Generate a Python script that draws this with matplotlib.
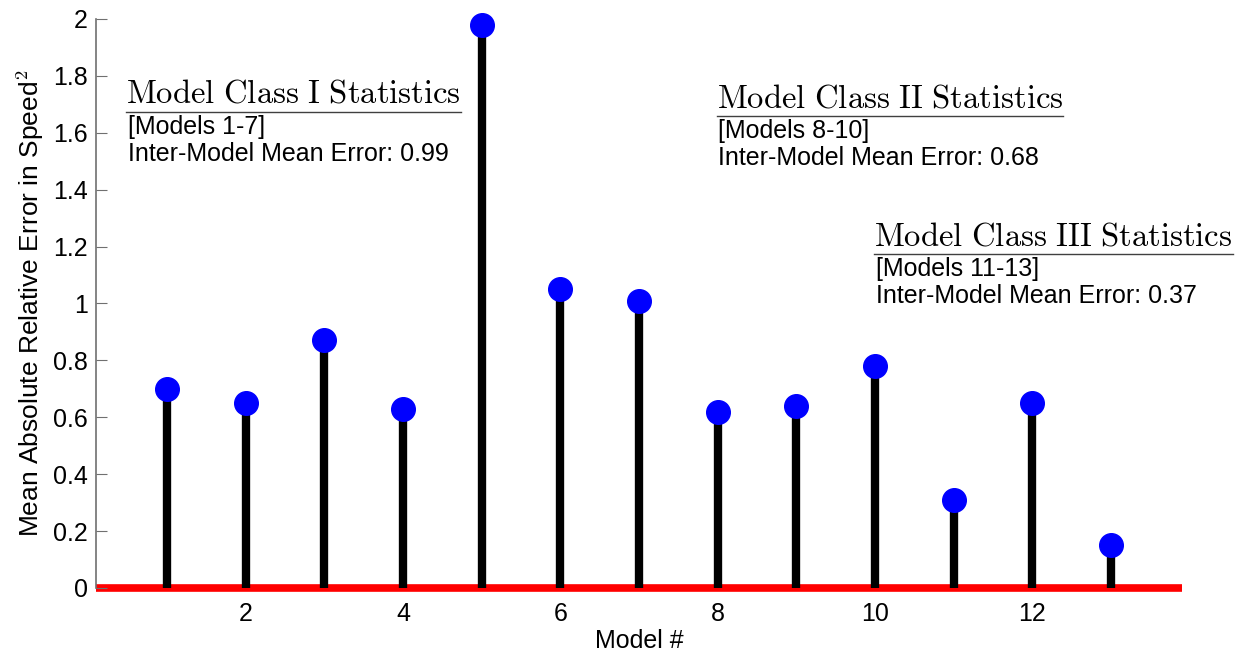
import matplotlib
matplotlib.use("Agg")
import matplotlib.pyplot as plt
from matplotlib.lines import Line2D

plt.rcParams['font.family'] = ['Liberation Sans', 'DejaVu Sans']
plt.rcParams['mathtext.fontset'] = 'cm'

# mean absolute relative error per model
models = [1, 2, 3, 4, 5, 6, 7, 8, 9, 10, 11, 12, 13]
errors = [0.70, 0.65, 0.87, 0.63, 1.98, 1.05, 1.01, 0.62, 0.64, 0.78, 0.31, 0.65, 0.15]
xticks = [2, 4, 6, 8, 10, 12]
yticks = [0, 0.2, 0.4, 0.6, 0.8, 1, 1.2, 1.4, 1.6, 1.8, 2]
ytick_labels = ['0', '0.2', '0.4', '0.6', '0.8', '1', '1.2', '1.4', '1.6', '1.8', '2']

class_titles = ["Model\\ Class\\ I\\ Statistics",
                "Model\\ Class\\ II\\ Statistics",
                "Model\\ Class\\ III\\ Statistics"]
class_ranges = ["[Models 1-7]", "[Models 8-10]", "[Models 11-13]"]
class_means = ["Inter-Model Mean Error: 0.99",
               "Inter-Model Mean Error: 0.68",
               "Inter-Model Mean Error: 0.37"]
# anchor (x, title y) of each text block in data units
class_pos = [(0.48, 1.735), (7.99, 1.72), (9.99, 1.235)]

fig = plt.figure(figsize=(12.39, 6.56), dpi=100)
ax = fig.add_axes([0.0775, 0.1037, 0.8765, 0.8674])

ax.axhline(0, color='red', lw=5.5, zorder=1, clip_on=False, solid_capstyle='butt')
ax.vlines(models, 0, errors, color='black', lw=6, zorder=2, clip_on=False)
ax.plot(models, errors, 'o', color='blue', ms=17, zorder=3, clip_on=False)

ax.set_xlim(0.1, 13.9)
ax.set_ylim(0, 2)
ax.set_xticks(xticks)
ax.set_yticks(yticks)
ax.set_yticklabels(ytick_labels)
for s in ['top', 'right', 'bottom']:
    ax.spines[s].set_visible(False)
ax.spines['left'].set_color('#707070')
ax.spines['left'].set_linewidth(1.2)
ax.tick_params(axis='y', direction='in', length=8, color='#707070', labelsize=18, pad=6)
ax.tick_params(axis='x', length=0, labelsize=18, pad=10)

ax.set_xlabel('Model #', fontsize=18, labelpad=2)
ax.set_ylabel('Mean Absolute Relative Error in Speed$^2$', fontsize=19, labelpad=5)

titles = []
for t, r, m, (x, y) in zip(class_titles, class_ranges, class_means, class_pos):
    tt = ax.text(x, y, '$\\mathrm{' + t + '}$', fontsize=23.5, va='center', ha='left')
    titles.append(tt)
    ax.text(x + 0.02, y - 0.115, r, fontsize=18, va='center', ha='left')
    ax.text(x + 0.02, y - 0.21, m, fontsize=18, va='center', ha='left')

# underline the serif headings
fig.canvas.draw()
r = fig.canvas.get_renderer()
inv = fig.transFigure.inverted()
for tt in titles:
    bb = tt.get_window_extent(r)
    (x0, y0), (x1, _) = inv.transform([(bb.x0, bb.y0 - 2), (bb.x1, bb.y0 - 2)])
    fig.add_artist(Line2D([x0, x1], [y0, y0], color='#404040', lw=1.0))

fig.savefig('out.png', dpi=100)
